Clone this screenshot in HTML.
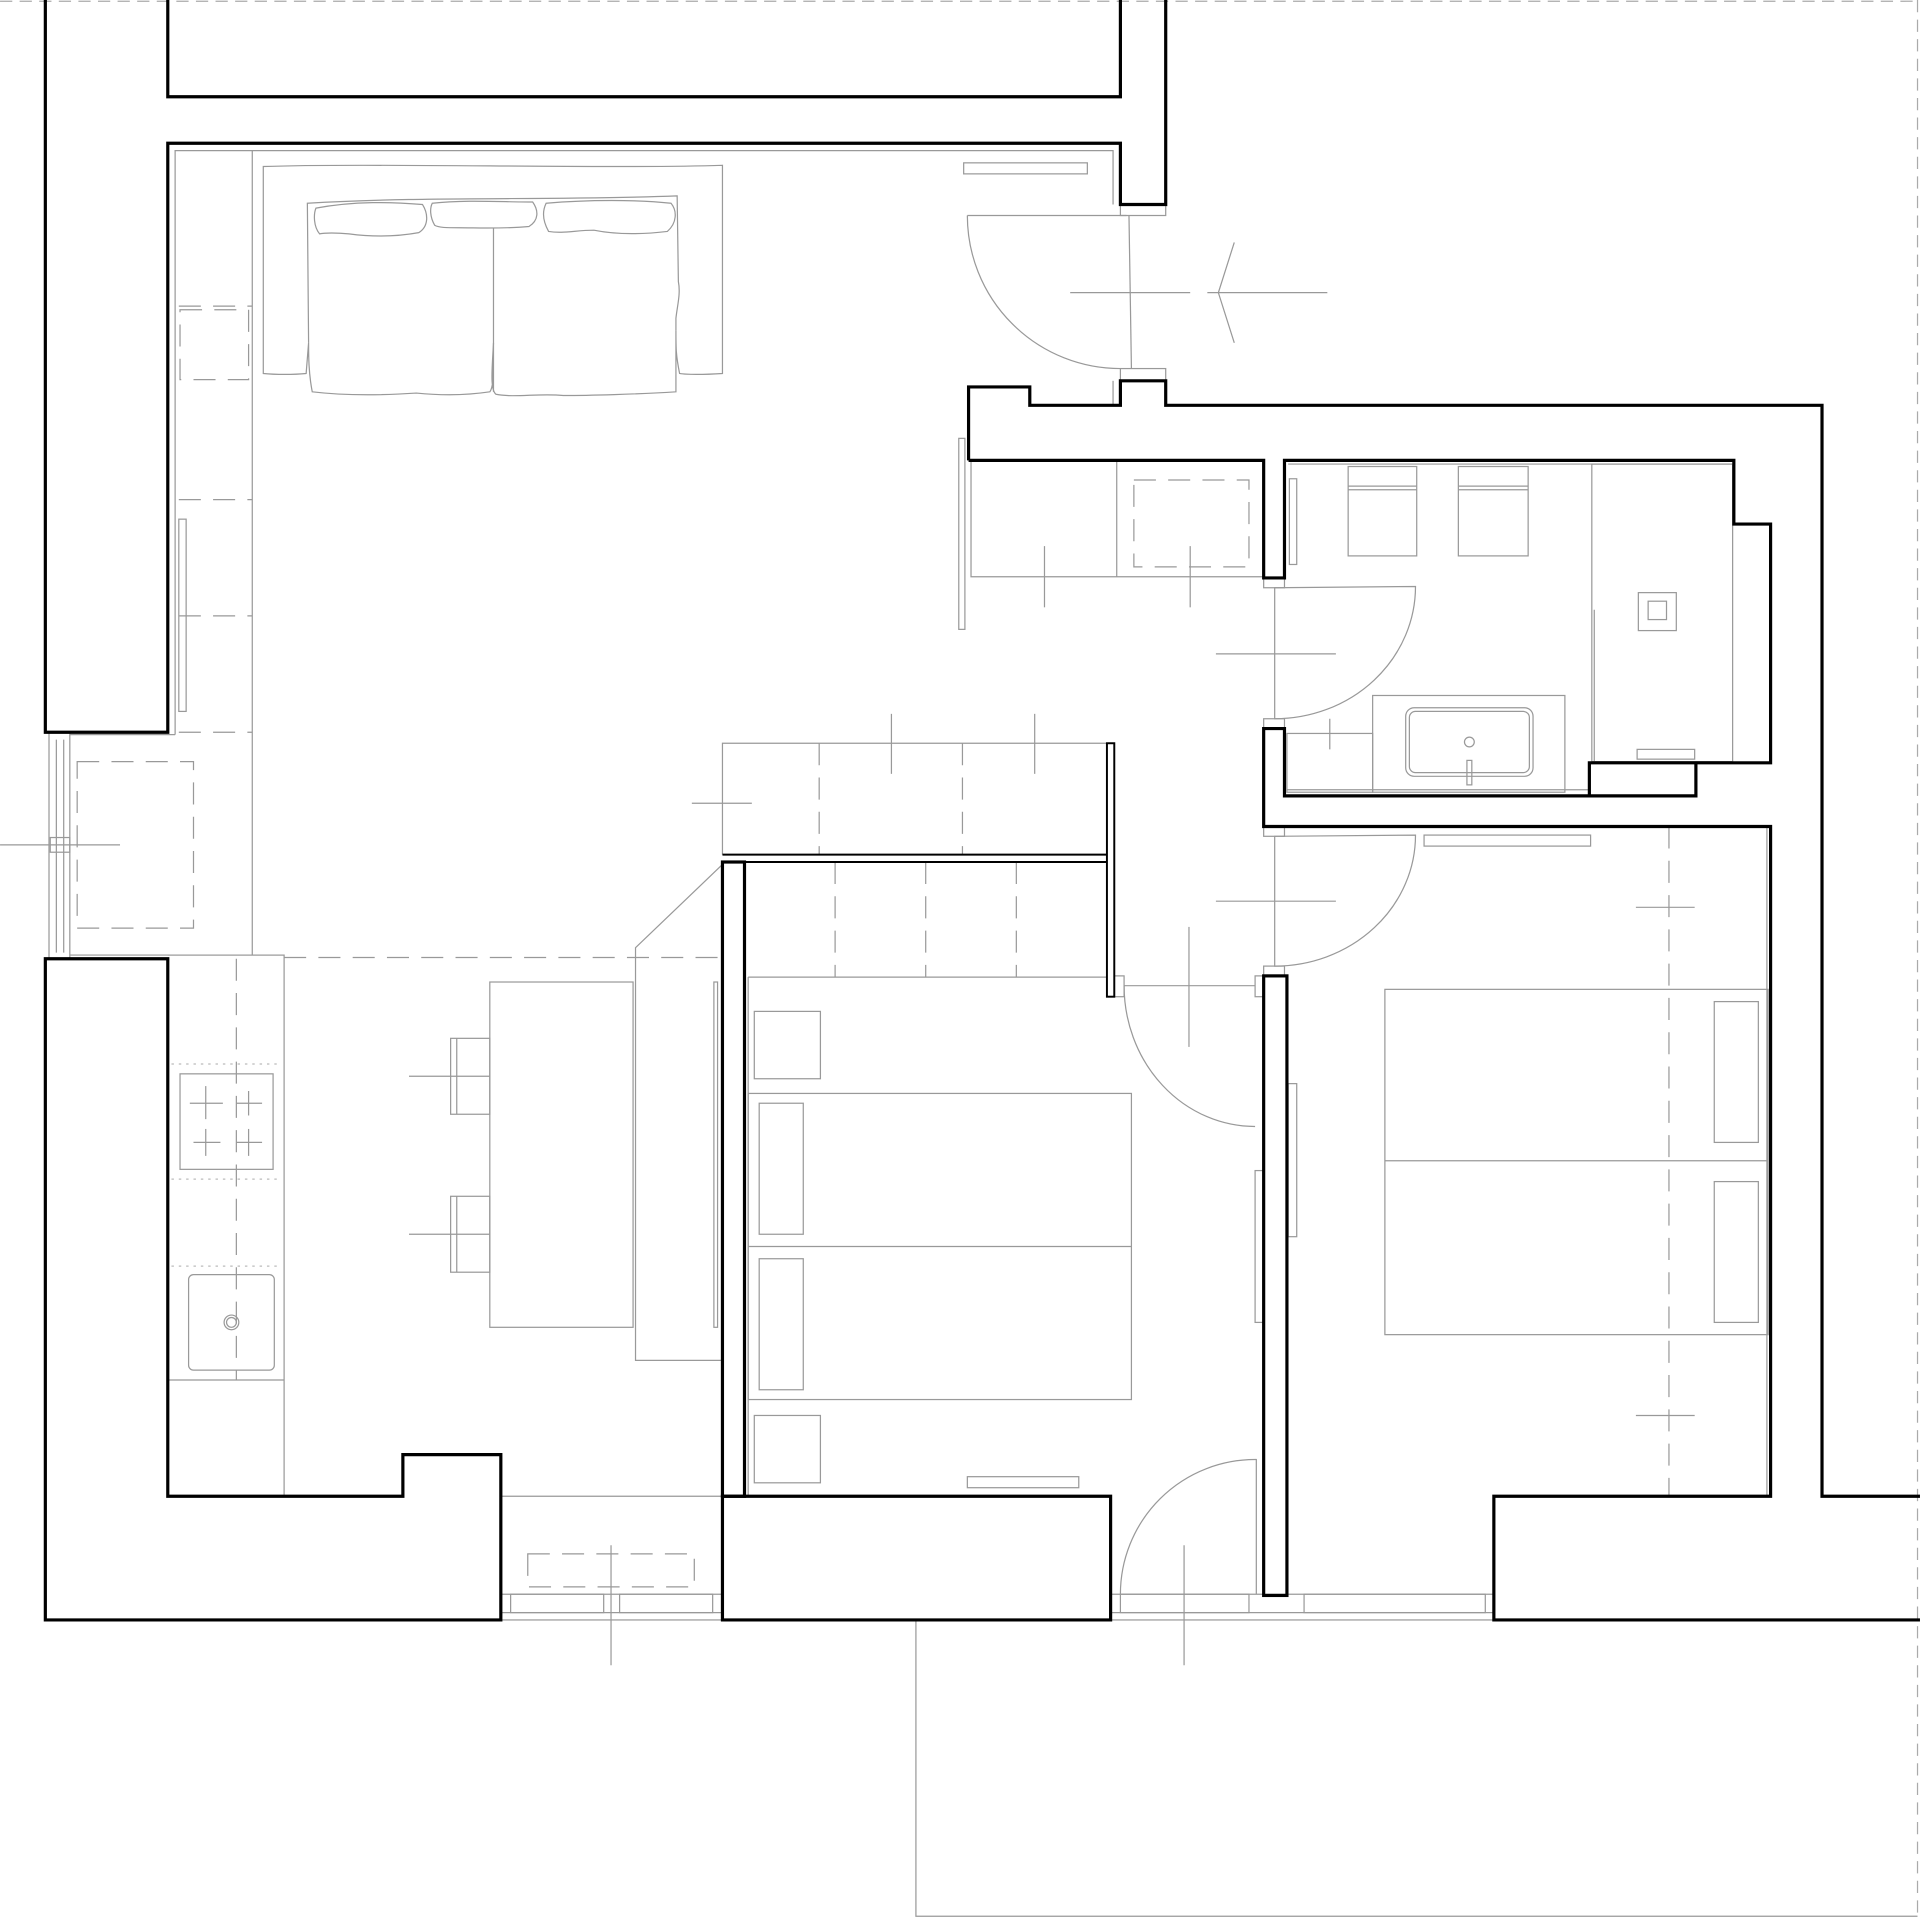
<!DOCTYPE html>
<html><head><style>html,body{margin:0;padding:0;background:#fff}svg{display:block}</style></head><body>
<svg width="1920" height="1917" viewBox="0 0 1568 1565.6" xmlns="http://www.w3.org/2000/svg" fill="none" stroke-linejoin="miter">
<g stroke="#aaa" stroke-width="1" stroke-dasharray="10,6">
<line x1="0" y1="1" x2="1566" y2="1"/><line x1="1566" y1="0" x2="1566" y2="1565"/>
</g>
<g stroke="#999" stroke-width="1">
<polyline points="748,1323 748,1565 1566,1565"/>
<!-- living area thin -->
<polyline points="143,600 143,123 909,123 909,167"/>
<line x1="206" y1="123" x2="206" y2="780"/>
<line x1="57" y1="600" x2="143" y2="600"/>
<line x1="57" y1="780" x2="232" y2="780"/>
<rect x="787" y="133" width="101" height="9"/>
<rect x="146" y="424" width="6" height="157"/>
<rect x="40" y="598" width="17" height="185"/><line x1="46" y1="604" x2="46" y2="778"/><line x1="52" y1="604" x2="52" y2="778"/>
<rect x="41" y="684" width="16" height="12"/>
<line x1="0" y1="690" x2="98" y2="690"/>
<!-- sofa -->
<path d="M215,305 L215,136 C300,133 500,138 590,135 L590,305 C575,306 560,306 555,305 C552,290 552,285 552,270 L552,320 C520,322 480,323 460,323 C440,321 420,325 405,322 C400,318 402,300 403,280 C402,300 404,315 400,320 C380,323 360,323 340,321 C310,323 280,323 255,320 C252,305 252,290 252,280 L250,305 C240,306 225,306 215,305 Z"/>
<path d="M252,280 L251,166 C350,160 450,164 553,160 L554,230 C556,240 553,250 552,260 L552,270"/>
<path d="M258,170 C290,164 320,165 345,167 C350,175 350,185 342,190 C320,194 300,193 285,191 C275,190 265,190 261,191 C256,185 256,175 258,170 Z"/>
<path d="M353,166 C380,163 410,165 435,165 C440,172 440,180 432,185 C410,187 390,186 375,186 C365,186 358,186 355,184 C351,177 351,170 353,166 Z"/>
<path d="M446,166 C480,163 520,163 548,166 C553,172 553,182 545,189 C520,192 500,191 485,188 C470,188 460,191 448,189 C443,180 443,172 446,166 Z"/>
<line x1="403" y1="186" x2="403" y2="320"/>
<!-- entry door -->
<path d="M790,176 L920,176 M790,176 A125,125 0 0 0 915,301"/>
<line x1="922" y1="176" x2="924" y2="301"/>
<rect x="915" y="167" width="37" height="9"/><rect x="915" y="301" width="37" height="10"/>
<line x1="909" y1="311" x2="909" y2="331"/>
<line x1="874" y1="239" x2="972" y2="239"/><line x1="986" y1="239" x2="1084" y2="239"/>
<polyline points="1008,198 995,239 1008,280"/>
<!-- wardrobe hall -->
<rect x="783" y="358" width="5" height="156"/>
<polyline points="793,376 793,471 1032,471"/>
<line x1="912" y1="376" x2="912" y2="471"/>
<line x1="853" y1="446" x2="853" y2="496"/><line x1="972" y1="446" x2="972" y2="496"/>
<!-- bath door -->
<rect x="1032" y="472" width="17" height="8"/><rect x="1032" y="587" width="17" height="8"/>
<path d="M1041,480 L1156,479 A115,108 0 0 1 1041,587 Z"/>
<line x1="993" y1="534" x2="1091" y2="534"/>
<!-- bathroom -->
<rect x="1053" y="391" width="6" height="70"/>
<rect x="1101" y="381" width="56" height="73"/><line x1="1101" y1="397" x2="1157" y2="397"/><line x1="1101" y1="400" x2="1157" y2="400"/>
<rect x="1191" y="381" width="57" height="73"/><line x1="1191" y1="397" x2="1248" y2="397"/><line x1="1191" y1="400" x2="1248" y2="400"/>
<rect x="1300" y="379" width="115" height="243"/><line x1="1052" y1="379" x2="1415" y2="379"/>
<line x1="1302" y1="498" x2="1302" y2="622"/>
<rect x="1338" y="484" width="31" height="31"/><rect x="1346" y="491" width="15" height="15"/>
<rect x="1337" y="612" width="47" height="8"/>
<rect x="1121" y="568" width="157" height="79"/>
<rect x="1148" y="578" width="104" height="56" rx="7"/><rect x="1151" y="581" width="98" height="50" rx="5"/>
<circle cx="1200" cy="606" r="4"/><rect x="1198" y="621" width="4" height="20"/>
<rect x="1051" y="599" width="70" height="48"/><line x1="1086" y1="587" x2="1086" y2="612"/>
<line x1="1051" y1="645" x2="1298" y2="645"/>
<!-- bedroom2 door -->
<rect x="1032" y="675" width="17" height="8"/><rect x="1032" y="789" width="17" height="8"/>
<path d="M1041,683 L1156,682 A115,107 0 0 1 1041,789 Z"/>
<line x1="993" y1="736" x2="1091" y2="736"/>
<rect x="1163" y="682" width="136" height="9"/>
<line x1="1443" y1="675" x2="1443" y2="1222"/>
<rect x="1131" y="808" width="313" height="282"/><line x1="1131" y1="948" x2="1444" y2="948"/>
<rect x="1400" y="818" width="36" height="115"/><rect x="1400" y="965" width="36" height="115"/>
<line x1="1336" y1="741" x2="1384" y2="741"/><line x1="1336" y1="1156" x2="1384" y2="1156"/>
<rect x="1052" y="885" width="7" height="125"/><rect x="1025" y="956" width="7" height="124"/>
<rect x="1025" y="797" width="7" height="17"/>
<!-- bedroom1 -->
<polyline points="590,698 590,607 904,607"/>
<line x1="565" y1="656" x2="614" y2="656"/>
<line x1="728" y1="583" x2="728" y2="632"/><line x1="845" y1="583" x2="845" y2="632"/>
<line x1="611" y1="798" x2="904" y2="798"/>
<line x1="611" y1="798" x2="611" y2="1222"/>
<rect x="616" y="826" width="54" height="55"/><rect x="616" y="1156" width="54" height="55"/>
<rect x="611" y="893" width="313" height="250"/><line x1="611" y1="1018" x2="924" y2="1018"/>
<rect x="620" y="901" width="36" height="107"/><rect x="620" y="1028" width="36" height="107"/>
<rect x="790" y="1206" width="91" height="9"/>
<path d="M918,805 L1025,805 M918,805 A107,115 0 0 0 1025,920"/>
<rect x="910" y="797" width="8" height="17"/>
<line x1="971" y1="757" x2="971" y2="855"/>
<path d="M915,1302 A110,110 0 0 1 1026,1192 L1026,1302"/>
<line x1="967" y1="1262" x2="967" y2="1360"/>
<!-- kitchen -->
<polyline points="137,780 232,780 232,1222"/>
<line x1="137" y1="1127" x2="232" y2="1127"/>
<rect x="147" y="877" width="76" height="78"/>
<line x1="155" y1="901" x2="182" y2="901"/><line x1="168" y1="887" x2="168" y2="914"/>
<line x1="193" y1="901" x2="214" y2="901"/><line x1="203" y1="891" x2="203" y2="911"/>
<line x1="158" y1="933" x2="180" y2="933"/><line x1="168" y1="922" x2="168" y2="944"/>
<line x1="193" y1="933" x2="214" y2="933"/><line x1="203" y1="922" x2="203" y2="944"/>
<rect x="154" y="1041" width="70" height="78" rx="4"/>
<circle cx="189" cy="1080" r="6"/><circle cx="189" cy="1080" r="4"/>
<rect x="400" y="802" width="117" height="282"/>
<rect x="368" y="848" width="32" height="62"/><line x1="373" y1="848" x2="373" y2="910"/><line x1="334" y1="879" x2="400" y2="879"/>
<rect x="368" y="977" width="32" height="62"/><line x1="373" y1="977" x2="373" y2="1039"/><line x1="334" y1="1008" x2="400" y2="1008"/>
<polyline points="590,706 519,774 519,1111 590,1111"/>
<rect x="583" y="802" width="3" height="282"/>
<!-- bottom windows -->
<line x1="409" y1="1222" x2="590" y2="1222"/>
<rect x="409" y="1302" width="181" height="21"/><line x1="409" y1="1317" x2="590" y2="1317"/>
<rect x="417" y="1302" width="76" height="15"/><rect x="506" y="1302" width="76" height="15"/>
<line x1="499" y1="1262" x2="499" y2="1360"/>
<rect x="907" y="1302" width="313" height="21"/><line x1="907" y1="1317" x2="1220" y2="1317"/>
<rect x="915" y="1302" width="105" height="15"/><rect x="1065" y="1302" width="148" height="15"/>
</g>
<g stroke="#999" stroke-width="1" stroke-dasharray="18,10">
<rect x="147" y="253" width="56" height="57"/>
<line x1="146" y1="250" x2="206" y2="250"/><line x1="146" y1="408" x2="206" y2="408"/>
<line x1="146" y1="503" x2="206" y2="503"/><line x1="146" y1="598" x2="206" y2="598"/>
<rect x="63" y="622" width="95" height="136"/>
<rect x="926" y="392" width="94" height="71"/>
<line x1="669" y1="607" x2="669" y2="698"/><line x1="786" y1="607" x2="786" y2="698"/>
<line x1="682" y1="704" x2="682" y2="798"/><line x1="756" y1="704" x2="756" y2="798"/><line x1="830" y1="704" x2="830" y2="798"/>
<line x1="232" y1="782" x2="590" y2="782"/>
<line x1="193" y1="783" x2="193" y2="1127"/>
<line x1="1363" y1="675" x2="1363" y2="1222"/>
<rect x="431" y="1269" width="136" height="27"/>
</g>
<g stroke="#bbb" stroke-width="1" stroke-dasharray="2,4">
<line x1="140" y1="869" x2="230" y2="869"/><line x1="140" y1="963" x2="230" y2="963"/><line x1="140" y1="1034" x2="230" y2="1034"/>
</g>
<g stroke="#000" stroke-width="2.6">
<polyline points="37,0 37,598 137,598 137,117 915,117 915,167 952,167 952,0"/>
<polyline points="137,0 137,79 915,79 915,0"/>
<polyline points="791,376 791,316 841,316 841,331 915,331 915,311 952,311 952,331 1488,331 1488,1222 1568,1222"/>
<polyline points="791,376 1032,376 1032,472 1049,472 1049,376 1416,376 1416,428 1446,428 1446,623 1385,623 1385,650 1298,650 1298,623 1385,623"/>
<polyline points="1298,650 1049,650 1049,595 1032,595 1032,675 1446,675 1446,1222 1220,1222 1220,1323 1568,1323"/>
<polygon points="37,783 137,783 137,1222 329,1222 329,1188 409,1188 409,1323 37,1323"/>
<polygon points="590,1323 590,1222 907,1222 907,1323"/>
<rect x="590" y="704" width="18" height="518"/>
<rect x="1032" y="797" width="19" height="506"/>
</g>
<g stroke="#000" stroke-width="1.6">
<line x1="590" y1="698" x2="904" y2="698"/><line x1="590" y1="704" x2="904" y2="704"/>
<rect x="904" y="607" width="6" height="207"/>
</g>
</svg>
</body></html>
